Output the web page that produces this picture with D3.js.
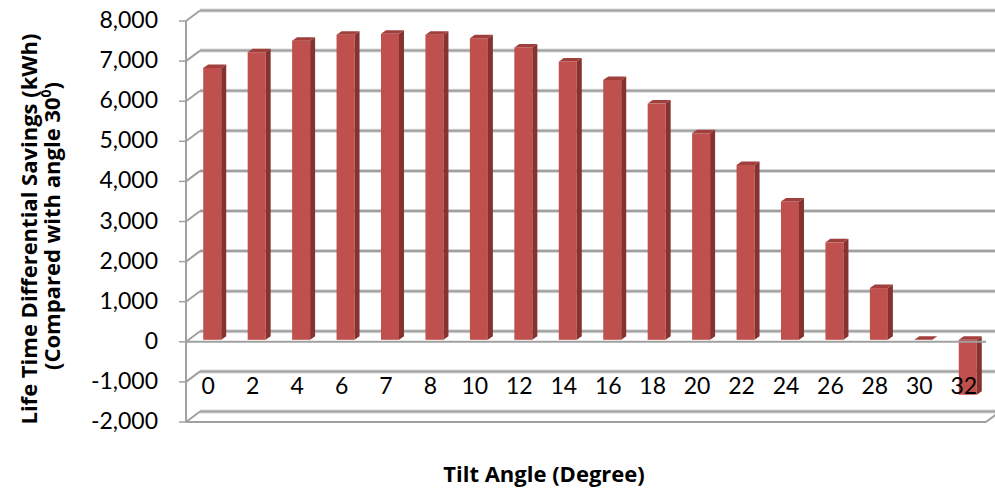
<html>
<head>
  <style>
    body {
      margin: 0;
      background: #fff;
      font-family: Lato, "Open Sans", sans-serif;
    }
    .title {
      font-family: "Open Sans", sans-serif;
      font-weight: bold;
    }
  </style>
</head>
<body>
  <svg id="chart">
    <g id="grid"></g>
    <g id="bars"></g>
    <g id="front"></g>
    <g id="yAxis"></g>
    <g id="labels"></g>
  </svg>
  <script src="https://cdn.jsdelivr.net/npm/d3@7/dist/d3.min.js"></script>
  <script>
    // data
    var angles = ["0", "2", "4", "6", "7", "8", "10", "12", "14", "16", "18", "20", "22", "24", "26", "28", "30", "32"];
    var savings = [6780, 7170, 7460, 7610, 7630, 7610, 7520, 7290, 6940, 6480, 5890, 5150, 4360, 3450, 2430, 1290, 0, -1370];
    var yTicks = [-2000, -1000, 0, 1000, 2000, 3000, 4000, 5000, 6000, 7000, 8000];

    var width = 995, height = 493;
    var plot = {left: 186, right: 986, top: 21, bottom: 422};
    var wall = {dx: 14, dy: -10.5};   // offset of the back wall
    var barOff = {dx: 4, dy: -2};     // bars sit a little behind the front plane
    var barDepth = {dx: 5, dy: -3.5};
    var barWidth = 18;

    var svg = d3.select("#chart").attr("width", width).attr("height", height);

    var x = d3.scaleBand().domain(angles).range([plot.left, plot.right]);
    var y = d3.scaleLinear().domain([-2000, 8000]).range([plot.bottom, plot.top]);

    var gridColor = "#a0a0a0";

    // back wall gridlines + side wall diagonals
    var grid = d3.select("#grid");
    yTicks.forEach(function (t) {
      var yf = y(t), yb = y(t) + wall.dy;
      grid.append("line")
        .attr("x1", plot.left + wall.dx).attr("x2", plot.right + wall.dx)
        .attr("y1", yb).attr("y2", yb)
        .attr("stroke", "#d9d9d9").attr("stroke-width", 4);
      grid.append("line")
        .attr("x1", plot.left + wall.dx).attr("x2", plot.right + wall.dx)
        .attr("y1", yb).attr("y2", yb)
        .attr("stroke", gridColor).attr("stroke-width", 2);
      grid.append("line")
        .attr("x1", plot.left).attr("x2", plot.left + wall.dx)
        .attr("y1", yf).attr("y2", yb)
        .attr("stroke", gridColor).attr("stroke-width", 2);
    });

    // floor front edge
    grid.append("line")
      .attr("x1", plot.left).attr("x2", plot.right)
      .attr("y1", y(-2000)).attr("y2", y(-2000))
      .attr("stroke", gridColor).attr("stroke-width", 2);
    grid.append("line")
      .attr("x1", plot.right).attr("x2", plot.right + wall.dx)
      .attr("y1", y(-2000)).attr("y2", y(-2000) + wall.dy)
      .attr("stroke", gridColor).attr("stroke-width", 2);

    // 3d columns
    var bars = d3.select("#bars").selectAll("g")
      .data(angles.map(function (a, i) { return {angle: a, value: savings[i]}; }))
      .enter().append("g");

    function geom(d) {
      var cx = x(d.angle) + x.bandwidth() / 2 + barOff.dx;
      return {
        x0: cx - barWidth / 2,
        x1: cx + barWidth / 2,
        top: y(Math.max(d.value, 0)) + barOff.dy,
        bot: y(Math.min(d.value, 0)) + barOff.dy
      };
    }

    bars.append("rect")
      .attr("x", function (d) { return geom(d).x0; })
      .attr("y", function (d) { return geom(d).top; })
      .attr("width", barWidth)
      .attr("height", function (d) { var g = geom(d); return g.bot - g.top; })
      .attr("fill", "#c0504d");

    bars.append("polygon")
      .attr("points", function (d) {
        var g = geom(d);
        return [[g.x1, g.top], [g.x1 + barDepth.dx, g.top + barDepth.dy],
                [g.x1 + barDepth.dx, g.bot + barDepth.dy], [g.x1, g.bot]].join(" ");
      })
      .attr("fill", "#853230");

    bars.append("polygon")
      .attr("points", function (d) {
        var g = geom(d);
        return [[g.x0, g.top], [g.x0 + barDepth.dx, g.top + barDepth.dy],
                [g.x1 + barDepth.dx, g.top + barDepth.dy], [g.x1, g.top]].join(" ");
      })
      .attr("fill", "#a03f3c");

    // front edge at zero, drawn over the bars
    d3.select("#front").append("line")
      .attr("x1", plot.left).attr("x2", plot.right)
      .attr("y1", y(0)).attr("y2", y(0))
      .attr("stroke", gridColor).attr("stroke-width", 2);

    // y axis
    var yAxis = d3.select("#yAxis");
    yAxis.append("line")
      .attr("x1", plot.left).attr("x2", plot.left)
      .attr("y1", y(8000)).attr("y2", y(-2000))
      .attr("stroke", gridColor).attr("stroke-width", 2);
    yAxis.selectAll(".tick").data(yTicks).enter().append("line")
      .attr("x1", plot.left - 7).attr("x2", plot.left)
      .attr("y1", function (d) { return y(d); })
      .attr("y2", function (d) { return y(d); })
      .attr("stroke", gridColor).attr("stroke-width", 1.5);
    yAxis.selectAll("text").data(yTicks).enter().append("text")
      .attr("x", 158)
      .attr("y", function (d) { return y(d) + 7; })
      .attr("text-anchor", "end")
      .attr("font-size", "23px")
      .attr("fill", "#000")
      .text(function (d) { return d3.format(",")(d).replace("−", "-"); });

    // category labels
    var labels = d3.select("#labels");
    labels.selectAll("text").data(angles).enter().append("text")
      .attr("x", function (d) { return x(d) + x.bandwidth() / 2; })
      .attr("y", 394)
      .attr("text-anchor", "middle")
      .attr("font-size", "23px")
      .attr("fill", "#000")
      .text(function (d) { return d; });

    // axis titles
    labels.append("text")
      .attr("class", "title")
      .attr("transform", "translate(37,229) rotate(-90)")
      .attr("text-anchor", "middle")
      .attr("font-size", "22px")
      .text("Life Time Differential Savings (kWh)");

    var t2 = labels.append("text")
      .attr("class", "title")
      .attr("transform", "translate(60,226) rotate(-90)")
      .attr("text-anchor", "middle")
      .attr("font-size", "22px");
    t2.append("tspan").text("(Compared with angle 30");
    t2.append("tspan").attr("dy", -9).attr("font-size", "14px").text("0");
    t2.append("tspan").attr("dy", 9).text(")");

    labels.append("text")
      .attr("class", "title")
      .attr("x", 544).attr("y", 482)
      .attr("text-anchor", "middle")
      .attr("font-size", "22px")
      .text("Tilt Angle (Degree)");
  </script>
</body>
</html>
